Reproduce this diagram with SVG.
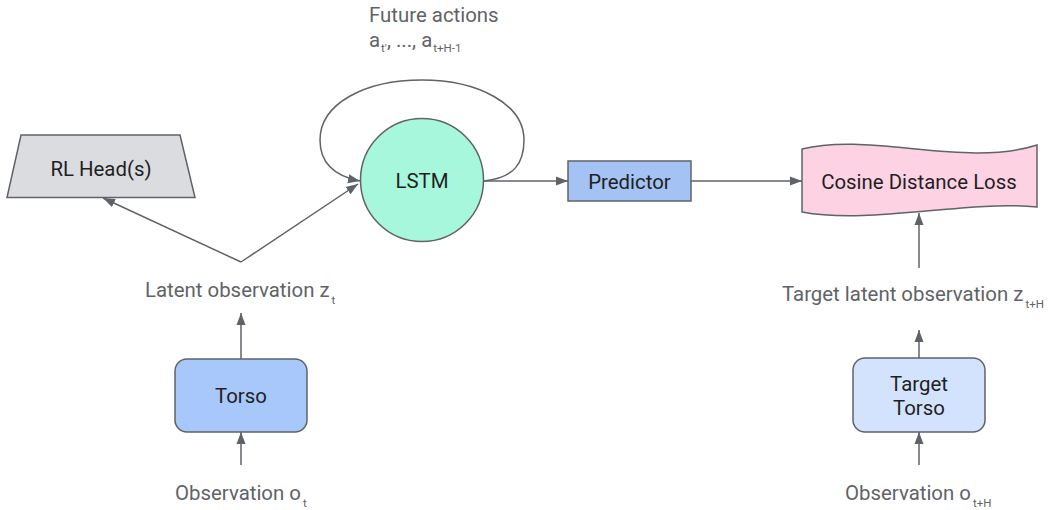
<svg xmlns="http://www.w3.org/2000/svg" width="1057" height="510" viewBox="0 0 1057 510">
  <style>
    .node { stroke: #5f6368; stroke-width: 1.5; }
    .name { font-family: Roboto, "Liberation Sans", sans-serif; font-size: 20.4px; fill: #1f1f1f; text-anchor: middle; }
    .label { font-family: Roboto, "Liberation Sans", sans-serif; font-size: 20.4px; fill: #5f6368; }
    .sub { font-size: 11.5px; }
    .edge { fill: none; stroke: #5f6368; stroke-width: 1.5; marker-end: url(#arrow); }
  </style>
  <defs>
    <marker id="arrow" markerUnits="userSpaceOnUse" markerWidth="12" markerHeight="10" refX="12" refY="5" orient="auto">
      <path d="M0,0.5 L12,5 L0,9.5 Z" fill="#5f6368"/>
    </marker>
  </defs>
  <rect width="1057" height="510" fill="#ffffff"/>

  <!-- connectors -->
  <g id="connectors">
    <path class="edge" d="M241 262 L103 198"/>
    <path class="edge" d="M241 262 L358 184"/>
    <path class="edge" d="M484 181 C515 178 524 162 524 140 C524 104 478 80 422 80 C364 80 320 104 320 140 C320 162 334 176 360 181"/>
    <path class="edge" d="M484 181 L568 181"/>
    <path class="edge" d="M691 181 L802 181"/>
    <path class="edge" d="M919 268 L919 213"/>
    <path class="edge" d="M241 359 L241 313"/>
    <path class="edge" d="M241 465 L241 432"/>
    <path class="edge" d="M919 358 L919 330"/>
    <path class="edge" d="M919 465 L919 432"/>
  </g>

  <!-- free labels -->
  <g id="labels">
    <text class="label" x="369" y="22">Future actions</text>
    <text class="label" x="369" y="47">a<tspan class="sub" dx="1" dy="5">t′</tspan><tspan dy="-5">, ..., a</tspan><tspan class="sub" dx="1" dy="5">t+H-1</tspan></text>
    <text class="label" x="145" y="297">Latent observation z<tspan class="sub" dx="2" dy="7">t</tspan></text>
    <text class="label" x="782" y="301">Target latent observation z<tspan class="sub" dx="2" dy="7">t+H</tspan></text>
    <text class="label" x="175" y="500">Observation o<tspan class="sub" dx="2" dy="7">t</tspan></text>
    <text class="label" x="845" y="500">Observation o<tspan class="sub" dx="2" dy="7">t+H</tspan></text>
  </g>

  <g id="rl-head">
    <path class="node" d="M21 135 L180 135 L195 197.5 L7 197.5 Z" fill="#dadce0"/>
    <text class="name" x="101" y="176">RL Head(s)</text>
  </g>

  <g id="lstm">
    <circle class="node" cx="422" cy="180" r="61.5" fill="#a6f7dc"/>
    <text class="name" x="422" y="188">LSTM</text>
  </g>

  <g id="predictor">
    <rect class="node" x="568" y="161" width="123" height="40" fill="#a4c2f4"/>
    <text class="name" x="629.5" y="188.5">Predictor</text>
  </g>

  <g id="cosine-loss">
    <path class="node" d="M802 149 C870 132 965 168 1037 145 L1037 207 C965 200 870 225 802 212 Z" fill="#fdd2e3"/>
    <text class="name" x="919" y="188.5">Cosine Distance Loss</text>
  </g>

  <g id="torso">
    <rect class="node" x="175" y="359" width="132" height="73" rx="12" fill="#a8c7fa"/>
    <text class="name" x="241" y="403">Torso</text>
  </g>

  <g id="target-torso">
    <rect class="node" x="853" y="358" width="132" height="74" rx="12" fill="#d3e3fd"/>
    <text class="name" x="919" y="391">Target</text>
    <text class="name" x="919" y="415">Torso</text>
  </g>
</svg>
